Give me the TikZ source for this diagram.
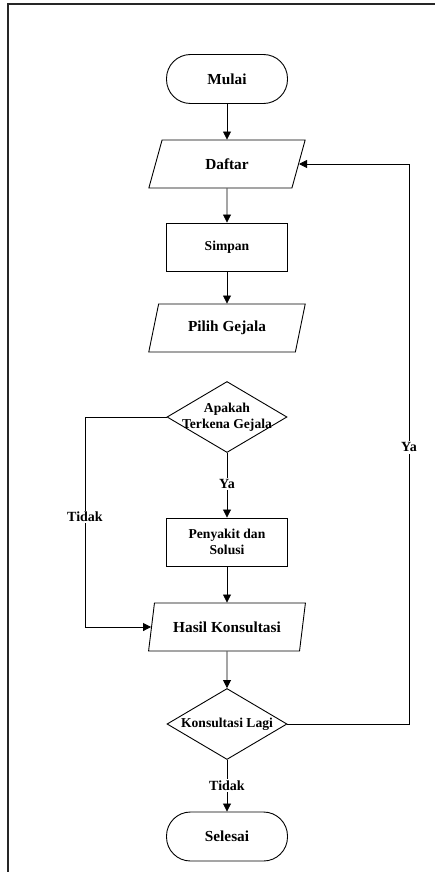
\documentclass[tikz,border=0pt]{standalone}
\usepackage{fontspec}
\setmainfont{Liberation Serif}
\usetikzlibrary{shapes.geometric,arrows.meta}
\begin{document}
\begin{tikzpicture}[x=1pt,y=-1pt,
  base/.style={draw=black, line width=0.9pt, inner sep=0pt, align=center,
    font=\bfseries\fontsize{15.3}{16}\selectfont},
  terminal/.style={base, rectangle, rounded corners=24pt,
    minimum width=121pt, minimum height=49pt},
  process/.style={base, rectangle, minimum width=121pt, minimum height=48pt},
  io/.style={base, trapezium, trapezium left angle=68, trapezium right angle=112,
    trapezium stretches=true, minimum width=157pt, minimum height=48pt},
  decision/.style={base, diamond, aspect=1.69,
    minimum width=120pt, minimum height=71pt},
  small/.style={font=\bfseries\fontsize{13.6}{16}\selectfont},
  flow/.style={line width=0.8pt, -{Triangle[length=8pt,width=8pt]}},
  lbl/.style={fill=white, inner sep=1.5pt, font=\bfseries\fontsize{14}{16}\selectfont},
]
\useasboundingbox (0,0) rectangle (435,872);

% page frame
\draw[line width=1.6pt, black!85] (8,872) -- (8,4) -- (435,4);

% nodes
\node[terminal] (mulai)    at (227,79)    {Mulai};
\node[io]       (daftar)   at (227,164)   {Daftar};
\node[process, small] (simpan) at (227,247) {Simpan};
\node[io]       (pilih)    at (227,328)   {Pilih Gejala};
\node[decision, small] (q1) at (227,417)
  {\makebox[0pt]{\begin{tabular}{@{}c@{}}Apakah\\Terkena Gejala\end{tabular}}};
\node[process, small] (penyakit) at (227,542)
  {Penyakit dan\\Solusi};
\node[io]       (hasil)    at (227,627)   {Hasil Konsultasi};
\node[decision, small] (q2) at (227,724)
  {\makebox[0pt]{Konsultasi Lagi}};
\node[terminal] (selesai)  at (227,836.5) {Selesai};

% bend points
\coordinate (tbend) at (85,417);
\coordinate (ybend) at (409,724);

% connectors
\draw[flow] (mulai) -- (daftar);
\draw[flow] (daftar) -- (simpan);
\draw[flow] (simpan) -- (pilih);
\draw[flow] (q1) -- node[lbl, pos=0.48] (ya1) {Ya} (penyakit);
\draw[flow] (penyakit) -- (hasil);
\draw[flow] (hasil) -- (q2);
\draw[flow] (q2) -- node[lbl, pos=0.5] (tidak2) {Tidak} (selesai);
\draw[flow] (q1.west) -- (tbend) |- node[lbl, pos=0.238] (tidak1) {Tidak} (hasil.west);
\draw[flow] (q2.east) -- (ybend) |- node[lbl, pos=0.247] (ya2) {Ya} (daftar.east);
\end{tikzpicture}
\end{document}
